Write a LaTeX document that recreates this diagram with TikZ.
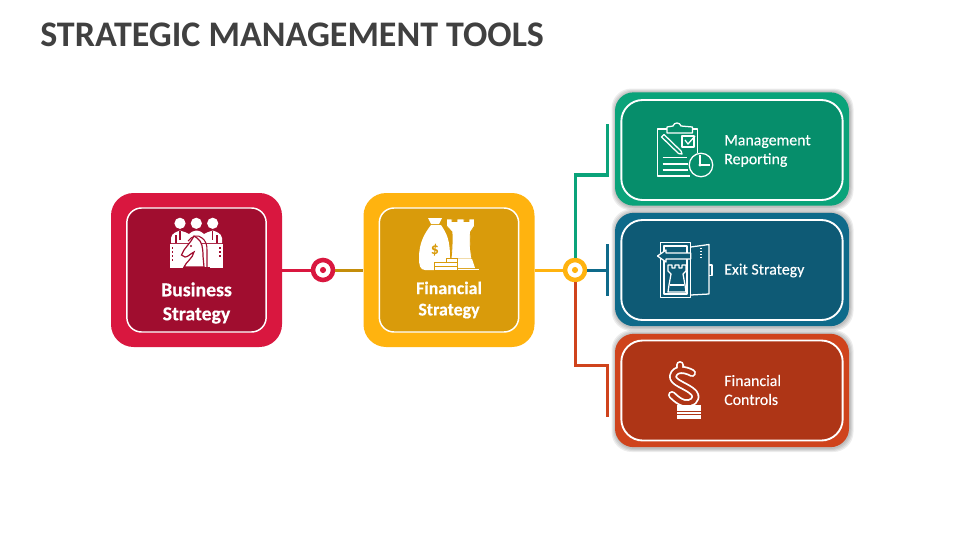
\documentclass[tikz,border=0pt]{standalone}
\usepackage{fontspec}
\setmainfont{Carlito}
\newfontfamily\sidefont[FakeBold=0.25]{Carlito}
\newfontfamily\boxfont[BoldFeatures={FakeBold=0.4}]{Carlito}
\usetikzlibrary{positioning,calc,arrows.meta}
\definecolor{crimsonO}{HTML}{D9173F}
\definecolor{crimsonI}{HTML}{A00D2F}
\definecolor{amberO}{HTML}{FFB30F}
\definecolor{amberI}{HTML}{D99B0B}
\definecolor{amberL}{HTML}{C48D0A}
\definecolor{greenO}{HTML}{0AA37A}
\definecolor{greenI}{HTML}{068E6B}
\definecolor{blueO}{HTML}{0E6A8A}
\definecolor{blueI}{HTML}{0E5A75}
\definecolor{rustO}{HTML}{CF431C}
\definecolor{rustI}{HTML}{AE3516}
\definecolor{titlegray}{HTML}{404040}

\begin{document}
\begin{tikzpicture}[
    x=0.75pt, y=-0.75pt,
    outerbox/.style={rectangle, minimum width=#1*0.75pt, inner sep=0pt},
    tall/.style={outerbox=171, minimum height=115.5pt, rounded corners=17pt},
    wide/.style={outerbox=234, minimum height=85pt, rounded corners=14pt},
    innertall/.style={rectangle, draw=white, line width=1.1pt, inner sep=0pt, minimum width=104.5pt, minimum height=93pt, rounded corners=11pt},
    innerwide/.style={rectangle, draw=white, line width=1.4pt, inner sep=0pt, minimum width=166pt, minimum height=75pt, rounded corners=16pt},
    hub/.style={circle, draw=#1, fill=white, line width=3.4pt, minimum size=15pt, inner sep=0pt},
    dot/.style={circle, fill=#1, minimum size=4.6pt, inner sep=0pt},
    link/.style={line width=2.26pt},
    boldlabel/.style={text=white, align=center},
    sidelabel/.style={text=white, font=\sidefont\fontsize{11.9}{14.2}\selectfont, align=left, anchor=west, inner sep=0pt},
    icon/.style={draw=white, line width=0.95pt, line join=round}
]
    \useasboundingbox (0,0) rectangle (960,540);
    \node[anchor=west, text=titlegray, font=\fontsize{27}{32}\selectfont\bfseries, inner sep=0pt] (title) at (40,34.5) {STRATEGIC MANAGEMENT TOOLS};

    % soft edge behind the three right boxes
    \foreach \yy in {149,269.5,390.5} {
        \foreach \grow in {8,6,4,2} {
            \fill[black, opacity=0.07, rounded corners=15pt] (615-\grow/2+0.5,\yy-57-\grow/2+0.5) rectangle (849+\grow/2+0.5,\yy+57+\grow/2+0.5);
        }
    }

    \node[tall, fill=crimsonO] (business) at (196.5,270) {};
    \node[innertall, fill=crimsonI] (businessin) at (196.5,270) {};
    \node[tall, fill=amberO] (financial) at (449,270) {};
    \node[innertall, fill=amberI] (financialin) at (449,270) {};

    \node[wide, fill=greenO] (report) at (732,149) {};
    \node[innerwide, fill=greenI] (reportin) at (732,150) {};
    \node[wide, fill=blueO] (exit) at (732,269.5) {};
    \node[innerwide, fill=blueI] (exitin) at (732,270) {};
    \node[wide, fill=rustO] (controls) at (732,390.5) {};
    \node[innerwide, fill=rustI] (controlsin) at (732,390.5) {};

    \node[hub=crimsonO] (hubA) at (323,270) {};
    \node[dot=crimsonO] (hubAdot) at (hubA) {};
    \node[hub=amberO] (hubB) at (575,270) {};
    \node[dot=amberO] (hubBdot) at (hubB) {};

    % end points of the branches
    \coordinate (greenTop) at (607,124);
    \coordinate (greenMid) at (607,175);
    \coordinate (blueTop) at (607,244);
    \coordinate (blueMid) at (607,270);
    \coordinate (blueEnd) at (607,296);
    \coordinate (rustMid) at (607,365);
    \coordinate (rustEnd) at (607,417);

    \draw[link, crimsonO] (business.east) -- (hubA.west);
    \draw[link, amberL] (hubA.east) -- (financial.west);
    \draw[link, amberO] (financial.east) -- (hubB.west);
    \draw[link, greenO] (hubB.north) -- (hubB.north |- greenMid) -- (greenMid) -- (greenTop);
    \draw[link, blueO] (hubB.east) -- (blueMid);
    \draw[link, blueO] (blueTop) -- (blueEnd);
    \draw[link, rustO] (hubB.south) -- (hubB.south |- rustMid) -- (rustMid) -- (rustEnd);

    \node[boldlabel, font=\boxfont\fontsize{14.8}{18}\selectfont\bfseries] (businesstxt) at (196.5,303) {Business\\Strategy};
    \node[boldlabel, font=\boxfont\fontsize{13.4}{16}\selectfont\bfseries] (financialtxt) at (449,300) {Financial\\Strategy};
    \node[sidelabel] (reporttxt) at (724,151) {Management\\Reporting};
    \node[sidelabel] (exittxt) at (724,270.5) {Exit Strategy};
    \node[sidelabel] (controlstxt) at (724,390) {Financial\\Controls};

    % business strategy icon
    \foreach \i in {180,196.3,212.7} {
        \fill[white] (\i,223.3) circle (4.2pt);
    }
    \fill[white] (171,243) -- (171,238) .. controls (172,233) and (176,232) .. (180,230.5) .. controls (184,232) and (186,232) .. (189,234) .. controls (191,232) and (193,231) .. (196.3,230.5) .. controls (200,231) and (202,232) .. (204,234) .. controls (207,232) and (209,232) .. (212.7,230.5) .. controls (217,232) and (221,233) .. (222,238) -- (222,243) -- cycle;
    \fill[white] (170,244) rectangle (223,268);
    \draw[crimsonI, line width=0.8pt] (176,243) -- (176,235) (217,243) -- (217,235) (180,231) -- (180,240) (212.7,231) -- (212.7,240);
    \draw[crimsonI, line width=0.8pt] (188,241) .. controls (192,236) and (198,234) .. (202,238) .. controls (206,241) and (207,245) .. (207,250) -- (207,268);
    \fill[white, draw=crimsonI, line width=0.9pt] (181.5,255) -- (184,250) -- (191,241) -- (194,236) -- (197,238) .. controls (202,241) and (203,248) .. (203,256) -- (204,267) -- (184,267) .. controls (186,262) and (193,258) .. (194,252) .. controls (190,254) and (188,257) .. (185,257) -- cycle;
    \fill[crimsonI] (191,246) circle (0.8pt);
    \draw[crimsonI, line width=0.8pt] (183,268) -- (210,268);
    \foreach \yy in {247,251,255,259} {
        \fill[crimsonI] (171.5,\yy) rectangle (173,\yy+1.5);
    }
    \foreach \yy in {247,251,255} {
        \fill[crimsonI] (219,\yy) rectangle (220.5,\yy+1.5);
    }

    % financial strategy icon
    \fill[white] (428,218) -- (442,218) -- (439,224) -- (431,224) -- cycle;
    \fill[white] (431,225) -- (441,225) .. controls (447,234) and (450,240) .. (450,258) -- (450,270) -- (425,270) .. controls (420,270) and (419,265) .. (419,258) .. controls (419,242) and (425,233) .. (431,225) -- cycle;
    \node[text=amberI, font=\fontsize{12}{12}\selectfont\bfseries, inner sep=0pt] (dollar) at (435,250) {\$};
    \fill[white, draw=amberI, line width=0.6pt] (446.5,219) -- (452,219) -- (452,221.5) -- (457,221.5) -- (457,219) -- (464,219) -- (464,221.5) -- (469,221.5) -- (469,219) -- (474.5,219) -- (474.5,226) -- (470.5,232) .. controls (470,240) and (470,250) .. (472,259) -- (451,259) .. controls (452,250) and (452.5,240) .. (452,232) -- (446.5,226) -- cycle;
    \fill[white] (458,259) -- (472,259) -- (475,268) -- (458,268) -- cycle;
    \fill[white] (458,268.5) rectangle (479,270);
    \fill[white, draw=amberI, line width=0.6pt] (446,258) rectangle (457,262);
    \fill[white, draw=amberI, line width=0.6pt] (434,262) rectangle (457,266);
    \fill[white, draw=amberI, line width=0.6pt] (434,266) rectangle (457,270);

    % management reporting icon
    \draw[icon] (666.5,129) -- (657.5,129) -- (657.5,176) -- (690,176);
    \draw[icon] (692.5,129) -- (697.5,129) -- (697.5,153);
    \draw[icon] (667,133) -- (667,127) -- (673,126) .. controls (674,122) and (680,122) .. (681,126) -- (692.5,127) -- (692.5,133) -- cycle;
    \draw[icon] (682,136) rectangle (694,147);
    \draw[icon] (685,140) -- (688,144) -- (695,136);
    \draw[icon] (661.5,137) -- (664,134.5) -- (681,151) -- (682,154) -- (678.5,153.5) -- cycle;
    \draw[icon] (662.5,157.5) -- (687,157.5) (662.5,164) -- (688,164) (662.5,170) -- (688,170);
    \draw[icon, fill=greenI] (701,165) circle (8.8pt);
    \draw[icon] (700,155) -- (700,165) -- (710,165);
    \fill[white] (700,165) circle (1.3pt);

    % exit strategy icon
    \draw[icon] (660.7,242.5) rectangle (690.7,297.5);
    \draw[icon] (664,246) rectangle (687,294);
    \draw[icon] (690.7,247) -- (709,244.5) -- (709,294) -- (690.7,295);
    \draw[icon] (709,265) -- (712,265) -- (712,275.5) -- (709,275.5);
    \draw[white, line width=1pt, dash pattern=on 1pt off 1.2pt] (701,248) -- (701,258);
    \draw[icon, fill=blueI] (657.5,256) -- (666,250) -- (666,253) -- (690.7,253) -- (690.7,259) -- (666,259) -- (666,262) -- cycle;
    \draw[icon] (668,265) -- (668,271) -- (671,274) -- (669,285) -- (668,292) -- (686,292) -- (685,285) -- (683,274) -- (686,271) -- (686,265) -- (682,265) -- (682,268) -- (679,268) -- (679,265) -- (675,265) -- (675,268) -- (672,268) -- (672,265) -- cycle;
    \draw[icon] (670,285) -- (684,285);

    % financial controls icon
    \draw[white, line width=6pt, line cap=round, line join=round] (680,365) -- (680,370) (692,373) .. controls (685,369) and (675,368) .. (673,376) .. controls (672,383) and (688,386) .. (694,393) .. controls (699,400) and (690,405) .. (684,403) .. controls (680,402) and (676,399) .. (672,395);
    \draw[rustI, line width=3.3pt, line cap=round, line join=round] (680,365) -- (680,370) (692,373) .. controls (685,369) and (675,368) .. (673,376) .. controls (672,383) and (688,386) .. (694,393) .. controls (699,400) and (690,405) .. (684,403) .. controls (680,402) and (676,399) .. (672,395);
    \fill[white] (677.3,405) rectangle (700.7,411);
    \fill[white] (677.3,411.8) rectangle (700.7,414.3);
    \fill[white] (677.3,415.2) rectangle (700.7,418.7);
\end{tikzpicture}
\end{document}
